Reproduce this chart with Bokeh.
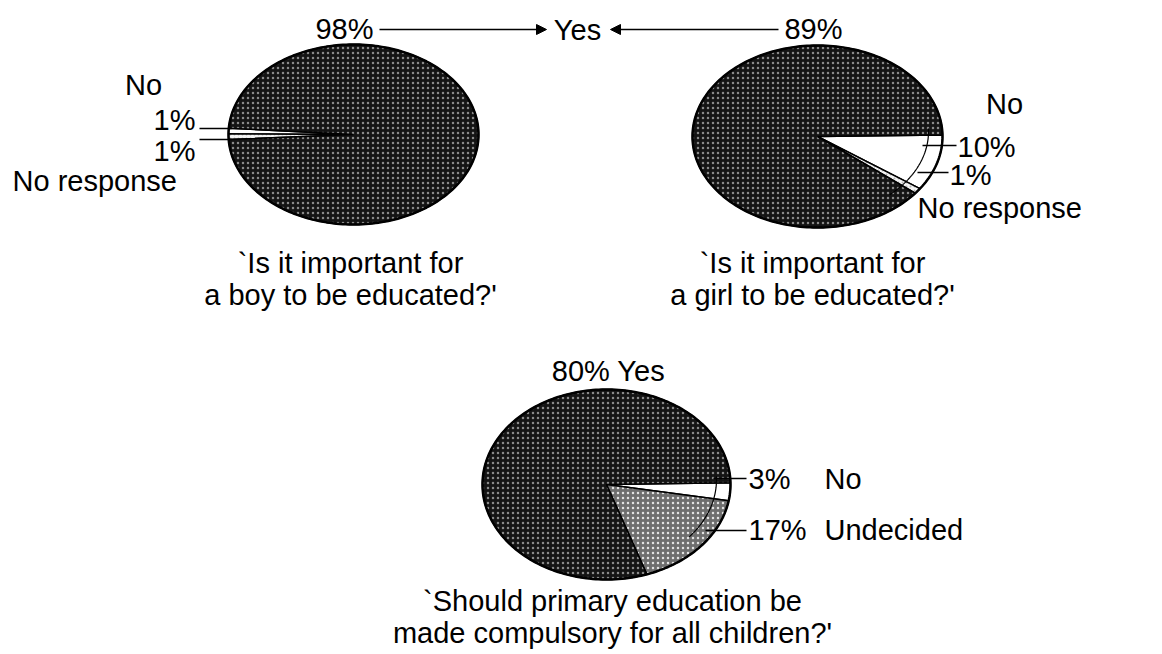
import numpy as np
from bokeh.plotting import figure
from bokeh.models import Range1d, Arrow, NormalHead
from bokeh.core.properties import value
from bokeh.embed import file_html
from bokeh.resources import INLINE

# ---- data ----
boy_labels = ["Yes", "No", "No response"]
boy_values = [98, 1, 1]
girl_labels = ["Yes", "No", "No response"]
girl_values = [89, 10, 1]
comp_labels = ["Yes", "No", "Undecided"]
comp_values = [80, 3, 17]
captions = [
    ["`Is it important for", "a boy to be educated?'"],
    ["`Is it important for", "a girl to be educated?'"],
    ["`Should primary education be", "made compulsory for all children?'"],
]

W, H = 1162, 654
FONT = value("Liberation Sans")
FS = "29px"

p = figure(width=W, height=H, x_range=Range1d(0, W), y_range=Range1d(H, 0),
           output_backend="svg", toolbar_location=None, min_border=0)
p.axis.visible = False
p.grid.visible = False
p.outline_line_color = None
p.background_fill_color = "white"

styles = {
    "Yes": dict(fill_color="#141414", hatch_pattern="dot", hatch_color="white",
                hatch_scale=5, hatch_weight=1.5, hatch_alpha=0.5),
    "No": dict(fill_color="white"),
    "No response": dict(fill_color="#f4f4f4", hatch_pattern="dot", hatch_color="#888888",
                        hatch_scale=4, hatch_weight=1, hatch_alpha=0.6),
    "Undecided": dict(fill_color="#6e6e6e", hatch_pattern="dot", hatch_color="white",
                      hatch_scale=5, hatch_weight=1.5, hatch_alpha=0.8),
}


def ell(cx, cy, rx, ry, deg):
    t = np.radians(deg)
    return cx + rx * np.cos(t), cy - ry * np.sin(t)


def draw_pie(cx, cy, rx, ry, labels, values, order, start, direction):
    a = start
    for lab in order:
        v = values[labels.index(lab)]
        span = 360.0 * v / sum(values) * direction
        angs = np.linspace(a, a + span, max(4, int(abs(span)) + 2))
        xs = [cx] + [ell(cx, cy, rx, ry, g)[0] for g in angs]
        ys = [cy] + [ell(cx, cy, rx, ry, g)[1] for g in angs]
        p.patch(xs, ys, line_color="black", line_width=1.5, **styles[lab])
        a += span
    t = np.linspace(0, 360, 240)
    ex, ey = ell(cx, cy, rx, ry, t)
    p.line(ex, ey, line_color="black", line_width=2.5)


def rim(cx, cy, rx, ry, a0, a1):
    # inner edge of the pie's top face, seen through the light slices
    t = np.linspace(a0, a1, 60)
    ex, ey = ell(cx - 6, cy - 5, rx - 8, ry - 6, t)
    p.line(ex, ey, line_color="black", line_width=1.2)


def txt(x, y, s, align="left"):
    p.text([x], [y], text=[s], text_font=FONT, text_font_size=FS,
           text_align=align, text_baseline="middle", text_color="black")


def seg(x0, y0, x1, y1, w=1.4):
    p.segment([x0], [y0], [x1], [y1], line_color="black", line_width=w)


# pie 1: boy
c1 = (353, 134, 125, 90)
draw_pie(*c1, boy_labels, boy_values, ["No", "No response", "Yes"], 176, 1)
# pie 2: girl
c2 = (817, 136, 125, 91)
draw_pie(*c2, girl_labels, girl_values, ["No", "No response", "Yes"], 1, -1)
rim(*c2, 2, -48)
# pie 3: compulsory
c3 = (606, 484, 124, 95)
draw_pie(*c3, comp_labels, comp_values, ["No", "Undecided", "Yes"], 1, -1)
rim(*c3, 2, -40)

# top labels with arrows
txt(344, 28, f"{boy_values[0]}%", "center")
txt(577, 29, "Yes", "center")
txt(813, 28, f"{girl_values[0]}%", "center")
p.add_layout(Arrow(end=NormalHead(size=10, fill_color="black", line_color="black"),
                   x_start=379, y_start=29, x_end=546, y_end=29, line_width=1.4))
p.add_layout(Arrow(end=NormalHead(size=10, fill_color="black", line_color="black"),
                   x_start=778, y_start=29, x_end=610, y_end=29, line_width=1.4))

# pie 1 side labels
txt(143, 84, "No", "center")
txt(195, 119, f"{boy_values[1]}%", "right")
txt(195, 150, f"{boy_values[2]}%", "right")
txt(12, 180, "No response", "left")
seg(199, 128, 231, 128)
seg(199, 139, 231, 139)

# pie 2 side labels
txt(1004, 103, "No", "center")
txt(957, 146, f"{girl_values[1]}%", "left")
txt(949, 174, f"{girl_values[2]}%", "left")
txt(917, 207, "No response", "left")
seg(922, 145, 956, 145)
seg(917, 172, 948, 172)

# pie 3 side labels
txt(608, 370, f"{comp_values[0]}% Yes", "center")
txt(748, 478, f"{comp_values[1]}%", "left")
txt(824, 478, "No", "left")
txt(748, 529, f"{comp_values[2]}%", "left")
txt(824, 529, "Undecided", "left")
seg(713, 478, 746, 478)
seg(705, 530, 746, 530)

# captions
for (cx, y0), cap in zip([(350, 262), (812, 262), (612, 600)], captions):
    txt(cx, y0, cap[0], "center")
    txt(cx, y0 + 32, cap[1], "center")

open("out.html", "w").write(file_html(p, INLINE))
